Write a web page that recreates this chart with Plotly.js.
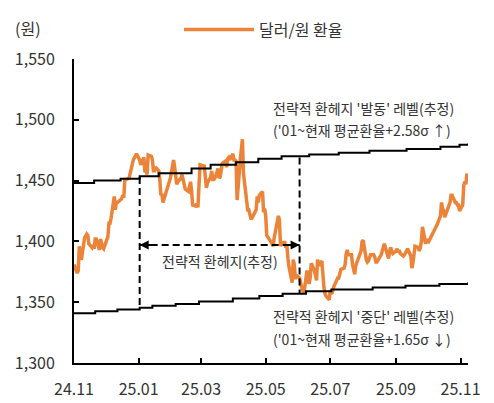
<!DOCTYPE html>
<html>
<head>
<meta charset="utf-8">
<script src="https://cdn.plot.ly/plotly-3.0.1.min.js"></script>
<style>
  html, body { margin: 0; padding: 0; background: #fff; }
  #chart { width: 494px; height: 403px; }
</style>
</head>
<body>
<div id="chart"></div>
<script>
// ---- Data (business-day closes, null = market holiday) ----
const nov24 = [1381, 1374, 1376, 1396, 1387, 1385, 1403, 1404, 1406, 1405, 1398, 1395, 1397, 1394, 1402, 1402, 1393, 1402, 1396, 1395, 1394];
const dec24 = [1402, 1404, 1415, 1415, 1419, 1437, 1426, 1433, 1432, 1433, 1435, 1438, 1436, 1451, 1451, 1452, 1456, null, 1465, 1467, 1472, null];
const jan25 = [null, 1467, 1463, 1469, 1457, 1458, 1455, 1471, 1470, 1467, 1458, 1458, 1461, 1458, 1451, 1438, 1439, 1432, null, null, null, null, 1452];
const feb25 = [1467, 1461, 1451, 1447, 1449, 1452, 1455, 1450, 1446, 1443, 1441, 1444, 1449, 1442, 1430, 1429, 1431, 1428, 1445, 1463];
const mar25 = [null, 1462, 1454, 1444, 1448, 1453, 1458, 1451, 1451, 1452, 1460, 1452, 1453, 1462, 1464, 1466, 1461, 1468, 1469, 1467, 1472];
const apr25 = [1467, 1467, 1466, 1434, 1467, 1473, 1484, 1456, 1449, 1426, 1426, 1420, 1419, 1419, 1424, 1426, 1437, 1432, 1438, 1441, 1424, 1427];
const may25 = [1421, 1405, null, null, 1398, 1396, 1403, 1418, 1421, 1417, 1396, 1399, 1399, 1395, 1396, 1386, 1379, 1366, 1385, 1381, 1369, 1372];
const jun25 = [1370, null, 1362, 1358, 1357, 1376, 1368, 1365, 1370, 1382, 1376, 1372, 1368, 1385, 1380, 1384, 1366, 1362, 1357, 1355, 1352];
const jul25 = [1360, 1357, 1358, 1362, 1369, 1370, 1370, 1373, 1377, 1378, 1381, 1390, 1393, 1389, 1389, 1381, 1375, 1373, 1380, 1388, 1391, 1392, 1400];
const aug25 = [1401, 1385, 1383, 1384, 1388, 1389, 1389, 1387, 1383, 1383, null, 1389, 1393, 1395, 1398, 1395, 1386, 1392, 1395, 1392, 1390];
const sep25 = [1392, 1394, 1391, 1393, 1390, 1388, 1389, 1391, 1392, 1394, 1388, 1378, 1382, 1391, 1396, 1395, 1392, 1395, 1400, 1412, 1398, 1401];
const oct25 = [1401, 1400, null, null, null, null, null, 1414, 1421, 1432, 1427, 1425, 1420, 1428, 1429, 1432, 1438, 1438, 1432, 1432, 1430, 1430, 1425];
const nov25 = [1430, 1446, 1449, 1447, 1456];

const monthStarts = ['2024-11', '2024-12', '2025-01', '2025-02', '2025-03', '2025-04', '2025-05',
                     '2025-06', '2025-07', '2025-08', '2025-09', '2025-10', '2025-11'];
const monthValues = [nov24, dec24, jan25, feb25, mar25, apr25, may25, jun25, jul25, aug25, sep25, oct25, nov25];

// Strategic hedge trigger / stop levels (step lines)
const upperDates = ['2024-11-01', '2024-11-20', '2024-12-15', '2025-01-02', '2025-01-20', '2025-02-20', '2025-03-10',
                    '2025-04-03', '2025-04-24', '2025-05-16', '2025-06-11', '2025-07-09', '2025-08-07', '2025-09-11',
                    '2025-10-13', '2025-10-31', '2025-11-08'];
const upperVals  = [1448, 1450, 1451.5, 1453.5, 1456, 1460, 1463, 1465, 1468, 1470, 1471.5, 1473, 1474.6, 1476,
                    1477.8, 1479.5, 1480.5];
const lowerDates = ['2024-11-01', '2024-11-21', '2024-12-12', '2025-01-02', '2025-01-14', '2025-02-05', '2025-02-27',
                    '2025-03-31', '2025-04-25', '2025-05-17', '2025-06-08', '2025-07-02', '2025-08-10', '2025-09-10',
                    '2025-10-12', '2025-11-08'];
const lowerVals  = [1341, 1342.5, 1344, 1345.5, 1347, 1348.5, 1350.5, 1353, 1355, 1357, 1359, 1360.5, 1362, 1363.5,
                    1365, 1366.3];

// Strategic hedge period
const hedgeStart = '2025-01-02';
const hedgeEnd = '2025-06-02';
const hedgeStartTop = 1453, hedgeStartBottom = 1345.5;
const hedgeEndTop = 1469, hedgeEndBottom = 1357.5;
const arrowLevel = 1397;

const xTickVals = ['2024-11-01', '2025-01-01', '2025-03-01', '2025-05-01', '2025-07-01', '2025-09-01', '2025-11-01'];
const xTickText = ['24.11', '25.01', '25.03', '25.05', '25.07', '25.09', '25.11'];
const yTickVals = [1300, 1350, 1400, 1450, 1500, 1550];

// ---- Build business-day series ----
const dates = [], rates = [];
monthStarts.forEach((ms, i) => {
  const [y, m] = ms.split('-').map(Number);
  const vals = monthValues[i];
  let d = new Date(Date.UTC(y, m - 1, 1));
  let k = 0;
  while (k < vals.length) {
    const wd = d.getUTCDay();
    if (wd !== 0 && wd !== 6) {
      dates.push(d.toISOString().slice(0, 10));
      rates.push(vals[k]);
      k++;
    }
    d = new Date(d.getTime() + 86400000);
  }
});

const FONT = '"Noto Sans CJK KR", "Noto Sans", sans-serif';
const TXT = '#333333';
const ORANGE = '#EB8439';

const traces = [
  {
    x: dates, y: rates, type: 'scatter', mode: 'lines', name: '달러/원 환율',
    connectgaps: true,
    line: { color: ORANGE, width: 3.5 },
    hoverinfo: 'skip'
  },
  {
    x: upperDates, y: upperVals, type: 'scatter', mode: 'lines', showlegend: false,
    line: { color: '#000000', width: 2, shape: 'hv' }, hoverinfo: 'skip'
  },
  {
    x: lowerDates, y: lowerVals, type: 'scatter', mode: 'lines', showlegend: false,
    line: { color: '#000000', width: 2, shape: 'hv' }, hoverinfo: 'skip'
  }
];

const dashLine = { color: '#000000', width: 2, dash: '7px,4px' };

const layout = {
  width: 494, height: 403,
  margin: { l: 74, r: 26, t: 54, b: 40, pad: 0 },
  paper_bgcolor: '#ffffff', plot_bgcolor: '#ffffff',
  font: { family: FONT, color: TXT, size: 15 },
  showlegend: true,
  legend: {
    orientation: 'h', x: 0.2665, xanchor: 'left', y: 1.097, yanchor: 'middle',
    font: { family: FONT, size: 16, color: TXT }, itemwidth: 70, bgcolor: 'rgba(0,0,0,0)'
  },
  xaxis: {
    type: 'date', range: ['2024-11-01', '2025-11-08'],
    tickvals: xTickVals, ticktext: xTickText,
    showline: true, linecolor: '#000000', linewidth: 2,
    ticks: 'inside', ticklen: 5, tickwidth: 2, tickcolor: '#000000',
    showgrid: false, zeroline: false, ticklabelstandoff: 11,
    tickfont: { family: FONT, size: 16, color: TXT }
  },
  yaxis: {
    range: [1300, 1550], tickvals: yTickVals, tickformat: ',d',
    showline: true, linecolor: '#000000', linewidth: 2,
    ticks: 'inside', ticklen: 5, tickwidth: 2, tickcolor: '#000000',
    showgrid: false, zeroline: false, ticklabelstandoff: 14,
    tickfont: { family: FONT, size: 16, color: TXT }
  },
  shapes: [
    { type: 'line', xref: 'x', yref: 'y', x0: hedgeStart, x1: hedgeStart, y0: hedgeStartTop, y1: hedgeStartBottom, line: dashLine, layer: 'above' },
    { type: 'line', xref: 'x', yref: 'y', x0: hedgeEnd, x1: hedgeEnd, y0: hedgeEndTop, y1: hedgeEndBottom, line: dashLine, layer: 'above' },
    { type: 'line', xref: 'x', yref: 'y', x0: hedgeStart, x1: hedgeEnd, y0: arrowLevel, y1: arrowLevel, line: dashLine, layer: 'above' }
  ],
  annotations: [
    { xref: 'x', yref: 'y', x: hedgeStart, y: arrowLevel, ax: 14, ay: 0, text: '', showarrow: true,
      arrowhead: 2, arrowsize: 0.9, arrowwidth: 2, arrowcolor: '#000000' },
    { xref: 'x', yref: 'y', x: hedgeEnd, y: arrowLevel, ax: -14, ay: 0, text: '', showarrow: true,
      arrowhead: 2, arrowsize: 0.9, arrowwidth: 2, arrowcolor: '#000000' },
    { xref: 'x', yref: 'y', x: '2025-03-19', y: 1384, text: '전략적 환헤지(추정)', showarrow: false,
      xanchor: 'center', yanchor: 'middle', font: { family: FONT, size: 14, color: TXT } },
    { xref: 'paper', yref: 'paper', x: 0.5, y: 0.838, text: "전략적 환헤지 '발동' 레벨(추정)", showarrow: false,
      xanchor: 'left', yanchor: 'middle', font: { family: FONT, size: 14, color: TXT } },
    { xref: 'paper', yref: 'paper', x: 0.5, y: 0.766, text: "('01~현재 평균환율+2.58σ ↑)", showarrow: false,
      xanchor: 'left', yanchor: 'middle', font: { family: FONT, size: 14, color: TXT } },
    { xref: 'paper', yref: 'paper', x: 0.5, y: 0.155, text: "전략적 환헤지 '중단' 레벨(추정)", showarrow: false,
      xanchor: 'left', yanchor: 'middle', font: { family: FONT, size: 14, color: TXT } },
    { xref: 'paper', yref: 'paper', x: 0.5, y: 0.078, text: "('01~현재 평균환율+1.65σ ↓)", showarrow: false,
      xanchor: 'left', yanchor: 'middle', font: { family: FONT, size: 14, color: TXT } },
    { xref: 'paper', yref: 'paper', x: -0.155, y: 1.1036, text: '(원)', showarrow: false,
      xanchor: 'left', yanchor: 'middle', font: { family: FONT, size: 16, color: TXT } }
  ]
};

Plotly.newPlot('chart', traces, layout, { staticPlot: true, displayModeBar: false });
</script>
</body>
</html>
